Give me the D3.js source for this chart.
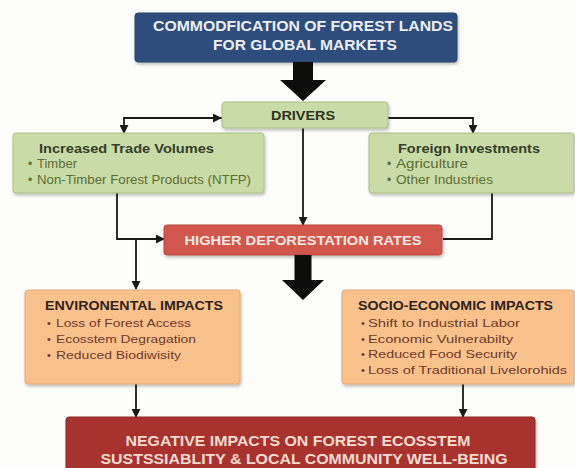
<!DOCTYPE html>
<html><head><meta charset="utf-8">
<script src="https://cdn.jsdelivr.net/npm/d3@7"></script>
<style>
html,body{margin:0;padding:0;background:#fdfdfb;}
svg{display:block;}
</style></head>
<body>
<svg id="c" width="575" height="468"></svg>
<script>
// ---- content ----
const topTitle = ["COMMODFICATION OF FOREST LANDS", "FOR GLOBAL MARKETS"];
const driversTitle = ["DRIVERS"];
const tradeTitle = ["Increased Trade Volumes"];
const tradeItems = ["Timber", "Non-Timber Forest Products (NTFP)"];
const investTitle = ["Foreign Investments"];
const investItems = ["Agriculture", "Other Industries"];
const deforestTitle = ["HIGHER DEFORESTATION RATES"];
const envTitle = ["ENVIRONENTAL IMPACTS"];
const envItems = ["Loss of Forest Access", "Ecosstem Degragation", "Reduced Biodiwisity"];
const socioTitle = ["SOCIO-ECONOMIC IMPACTS"];
const socioItems = ["Shift to Industrial Labor", "Economic Vulnerabilty", "Reduced Food Security", "Loss of Traditional Livelorohids"];
const finalTitle = ["NEGATIVE IMPACTS ON FOREST ECOSSTEM", "SUSTSSIABLITY & LOCAL COMMUNITY WELL-BEING"];

// ---- layout ----
const svg = d3.select("#c");
const F = "'Liberation Sans', Arial, sans-serif";

const defs = svg.append("defs");
defs.append("marker").attr("id","ah").attr("viewBox","0 0 10 10").attr("refX",9).attr("refY",5)
  .attr("markerWidth",5).attr("markerHeight",5).attr("orient","auto")
  .append("path").attr("d","M0,0L10,5L0,10z").attr("fill","#1a1a1a");
const f = defs.append("filter").attr("id","sh").attr("x","-10%").attr("y","-10%").attr("width","130%").attr("height","140%");
f.append("feDropShadow").attr("dx",1).attr("dy",2).attr("stdDeviation",1.5).attr("flood-color","#000").attr("flood-opacity",0.25);

function box(x,y,w,h,fill,stroke){
  svg.append("rect").attr("x",x).attr("y",y).attr("width",w).attr("height",h).attr("rx",3)
    .attr("fill",fill).attr("stroke",stroke).attr("stroke-width",1).attr("filter","url(#sh)");
}
function text(str,x,y,o){
  const t = svg.append("text").attr("x",x).attr("y",y).text(str)
    .attr("font-family",F).attr("font-size",o.size).attr("font-weight",o.weight||"normal")
    .attr("fill",o.fill).attr("text-anchor",o.anchor||"start");
  if(o.len){ t.attr("textLength",o.len).attr("lengthAdjust","spacingAndGlyphs"); }
  return t;
}
function line(pts,arrow){
  const p = svg.append("path").attr("d", d3.line()(pts)).attr("fill","none")
    .attr("stroke","#1a1a1a").attr("stroke-width",1.8);
  if(arrow) p.attr("marker-end","url(#ah)");
}
function bigArrow(cx,y0,y1,shaftW,headW,headH){
  const p = d3.path();
  p.moveTo(cx-shaftW/2,y0); p.lineTo(cx+shaftW/2,y0); p.lineTo(cx+shaftW/2,y1-headH);
  p.lineTo(cx+headW/2,y1-headH); p.lineTo(cx,y1); p.lineTo(cx-headW/2,y1-headH);
  p.lineTo(cx-shaftW/2,y1-headH); p.closePath();
  svg.append("path").attr("d",p.toString()).attr("fill","#0d0d0d");
}

// connectors first (behind boxes)
line([[222,118],[124,118],[124,133]],true);
line([[124,118],[221,118]],true);
line([[388,118],[473,118],[473,133]],true);
line([[303,128],[303,225]],true);
line([[117,193],[117,239],[164,239]],true);
line([[136,239],[136,289]],true);
line([[492,193],[492,239],[443,239]],false);
line([[136,384],[136,417]],true);
line([[463,384],[463,417]],true);

// top box
box(135,13,322,49,"#2e4e7d","#27446d");
text(topTitle[0],303,31,{size:14,weight:"bold",fill:"#eceff3",anchor:"middle",len:300});
text(topTitle[1],305,50,{size:14,weight:"bold",fill:"#eceff3",anchor:"middle",len:184});
bigArrow(303,62,101,20,46,21);

// drivers
box(222,102,166,26,"#c9dba6","#a9bf84");
text(driversTitle[0],303,120,{size:12,weight:"bold",fill:"#2b3320",anchor:"middle",len:64});

// trade volumes
box(13,133,251,60,"#c9dba6","#a9bf84");
text(tradeTitle[0],39,153,{size:13,weight:"bold",fill:"#34402a",len:175});
const tradeLens=[40,214];
tradeItems.forEach((s,i)=>{
  text("•",28,168+i*15.5,{size:12,fill:"#5c6e35"});
  text(s,37,168+i*15.5,{size:12,fill:"#5c6e35",len:tradeLens[i]});
});

// foreign investments
box(369,133,205,60,"#c9dba6","#a9bf84");
text(investTitle[0],398,153,{size:13,weight:"bold",fill:"#34402a",len:142});
const investLens=[72,97];
investItems.forEach((s,i)=>{
  text("•",387,168+i*15.5,{size:12,fill:"#5c6e35"});
  text(s,396,168+i*15.5,{size:12,fill:"#5c6e35",len:investLens[i]});
});

// deforestation
box(164,225,278,30,"#d1564b","#b94a40");
text(deforestTitle[0],303,245,{size:13,weight:"bold",fill:"#fbe9e4",anchor:"middle",len:237});
bigArrow(303,255,300,17,42,20);

// environmental
box(25,290,215,94,"#f9c18c","#e3a874");
text(envTitle[0],45,310,{size:12.5,weight:"bold",fill:"#2e231a",len:178});
const envLens=[135,140,125];
envItems.forEach((s,i)=>{
  text("•",47,327+i*16,{size:11,fill:"#6e3a28"});
  text(s,56,327+i*16,{size:11,fill:"#6e3a28",len:envLens[i]});
});

// socio-economic
box(342,290,232,94,"#f9c18c","#e3a874");
text(socioTitle[0],358,310,{size:12.5,weight:"bold",fill:"#2e231a",len:195});
const socioLens=[152,145,149,199];
socioItems.forEach((s,i)=>{
  text("•",361,327+i*15.5,{size:11,fill:"#6e3a28"});
  text(s,368,327+i*15.5,{size:11,fill:"#6e3a28",len:socioLens[i]});
});

// final
box(66,417,469,60,"#a8322f","#902824");
text(finalTitle[0],298,446,{size:14,weight:"bold",fill:"#f8dcd2",anchor:"middle",len:345});
text(finalTitle[1],304,464,{size:14,weight:"bold",fill:"#f8dcd2",anchor:"middle",len:407});
</script>
</body></html>
